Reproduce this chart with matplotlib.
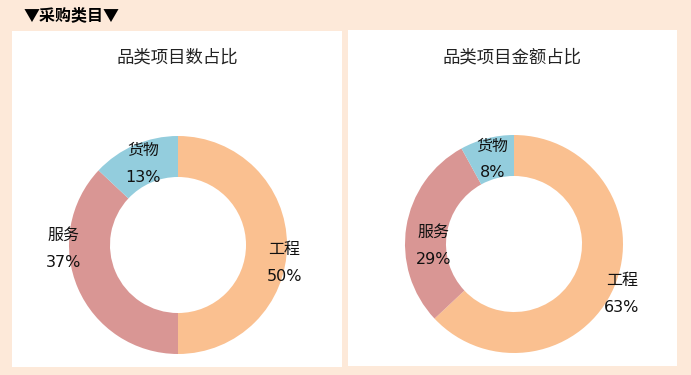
import numpy as np
import matplotlib
matplotlib.use("Agg")
import matplotlib.pyplot as plt
from matplotlib.patches import Rectangle

plt.rcParams['font.family'] = ['Noto Sans CJK SC', 'DejaVu Sans']

# 数据
categories = ['工程', '服务', '货物']
count_share = [50, 37, 13]
amount_share = [63, 29, 8]
chart_titles = ['品类项目数占比', '品类项目金额占比']
header = '▼采购类目▼'

colors = ['#FAC090', '#D99694', '#93CDDD']
bg = '#FDE9D9'

W, H = 691, 375
fig = plt.figure(figsize=(W / 100, H / 100), dpi=100, facecolor=bg)


def fx(px):
    return px / W


def fy(py):
    return 1 - py / H


# 白色面板
panels = [(12, 31, 342, 367), (348, 30, 677, 366)]
for x0, y0, x1, y1 in panels:
    fig.patches.append(Rectangle((fx(x0), fy(y1)), fx(x1 - x0), (y1 - y0) / H,
                                 transform=fig.transFigure, facecolor='white',
                                 edgecolor='none', zorder=-1))

fig.text(fx(24), fy(15), header, fontsize=11.5, fontweight='bold', va='center', ha='left')

# 标签位置微调（半径, 角度偏移）
label_style = [
    [(0.99, -9.6), (1.05, -21.4), (0.81, 0)],
    [(1.09, -1.4), (0.74, 10.4), (0.80, 0)],
]

centers = [(178, 245), (514, 244)]
R = 109
size = 240
for k, vals in enumerate([count_share, amount_share]):
    cx, cy = centers[k]
    ax = fig.add_axes([fx(cx - size / 2), fy(cy + size / 2), fx(size), size / H])
    ax.set_zorder(1)
    ax.pie(vals, colors=colors, startangle=90, counterclock=False,
           radius=1, wedgeprops=dict(width=0.376, edgecolor='none', linewidth=0))
    ax.set_xlim(-size / 2 / R, size / 2 / R)
    ax.set_ylim(-size / 2 / R, size / 2 / R)
    ax.set_aspect('equal')
    ax.axis('off')
    total = sum(vals)
    start = 90
    for i, v in enumerate(vals):
        sweep = 360 * v / total
        mid = start - sweep / 2
        start -= sweep
        r, dang = label_style[k][i]
        a = np.deg2rad(mid + dang)
        ax.text(r * np.cos(a), r * np.sin(a), f'{categories[i]}\n{v}%',
                ha='center', va='center', fontsize=11.5, linespacing=1.95,
                family=['DejaVu Sans', 'Noto Sans CJK SC'], color='#111111')
    px0, py0, px1, py1 = panels[k]
    fig.text(fx((px0 + px1) / 2), fy(57), chart_titles[k], fontsize=12.5,
             ha='center', va='center', color='#222222')

fig.savefig('out.png', dpi=100, facecolor=bg)
